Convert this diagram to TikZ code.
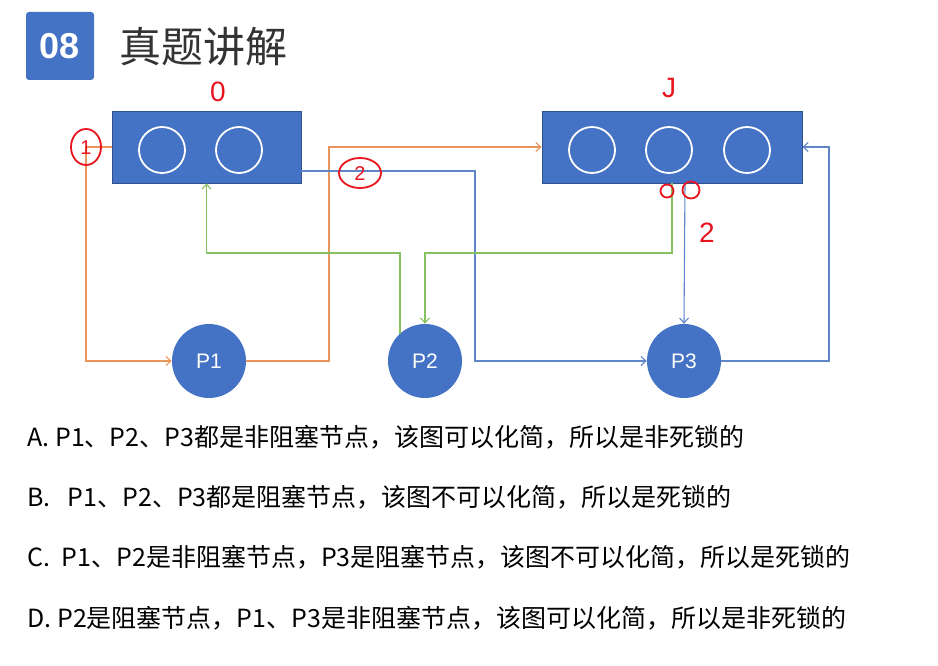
\documentclass[tikz,border=0pt]{standalone}
\usepackage{fontspec}
\setmainfont{Liberation Sans}
\newfontfamily\cjk{Noto Sans CJK SC}
\usetikzlibrary{arrows.meta}
\definecolor{bx}{HTML}{4472C4}
\definecolor{bxd}{HTML}{2F528F}
\definecolor{ol}{HTML}{E9955A}
\definecolor{bl}{HTML}{5F86C8}
\definecolor{gl}{HTML}{86C060}
\definecolor{rd}{HTML}{E8141E}
\begin{document}
\begin{tikzpicture}[x=1pt,y=-1pt,
  res/.style={draw=bxd,fill=bx,minimum height=72,inner sep=0,line width=0.8},
  proc/.style={circle,fill=bx,minimum size=74,inner sep=0,text=white,font=\fontsize{21}{21}\selectfont},
  inst/.style={circle,draw=white,line width=1.8,minimum size=46,inner sep=0},
  con/.style={line width=1.1,-{Straight Barb[length=5pt,width=9pt]}},
  opt/.style={anchor=west,font=\cjk\fontsize{25}{25}\selectfont},
  hand/.style={text=rd,font=\fontsize{28}{28}\selectfont}]
\useasboundingbox (0,0) rectangle (938,666);
\node[fill=bx,rounded corners=3,minimum width=68,minimum height=68,text=white,font=\bfseries\fontsize{36}{36}\selectfont] (num) at (60,46) {08};
\node[anchor=west,font=\cjk\fontsize{42}{42}\selectfont,text=black!80] (title) at (116,47) {真题讲解};
\node[res,minimum width=189] (r0) at (206.5,147) {};
\node[res,minimum width=260] (r1) at (672,147) {};
\node[inst] (a1) at (162,150) {};
\node[inst] (a2) at (239,150) {};
\node[inst] (b1) at (592,150) {};
\node[inst] (b2) at (669,150) {};
\node[inst] (b3) at (747,150) {};
\node[proc] (p1) at (209,361) {P1};
\node[proc] (p2) at (425,361) {P2};
\node[proc] (p3) at (684,361) {P3};
% orange
\draw[con,ol] (r0.west) -- (86,147) |- (p1.west);
\draw[con,ol] (p1.east) -- (329,361) |- (r1.west);
% blue
\draw[con,bl] (r0.east|-0,171) -- (475,171) |- (p3.west);
\draw[con,bl] (p3.east) -- (829,361) |- (r1.east);
\draw[con,bl] (685,183) -- (p3.north);
% green
\draw[con,gl] (400,334) -- (400,253) -| (r0.south);
\draw[con,gl] (672,183) -- (672,253) -| (p2.north);
% handwriting
\node[hand] (h0) at (218,92) {0};
\node[hand] (h1) at (669,88) {J};
\draw[rd,line width=1.8] (86,147) ellipse (15 and 18);
\node[hand,font=\fontsize{20}{20}\selectfont] (h2) at (86,148) {1};
\draw[rd,line width=1.8] (360,173) ellipse (21 and 15);
\node[hand,font=\fontsize{20}{20}\selectfont] (h3) at (360,174) {2};
\draw[rd,line width=1.8] (667,191) circle (6.5);
\draw[rd,line width=1.8] (691,190) circle (8.5);
\node[hand] (h4) at (707,233) {2};
% options
\node[opt] (oa) at (24,437) {A. P1、P2、P3都是非阻塞节点，该图可以化简，所以是非死锁的};
\node[opt] (ob) at (24,497) {B. \ \ P1、P2、P3都是阻塞节点，该图不可以化简，所以是死锁的};
\node[opt] (oc) at (24,557) {C. \ P1、P2是非阻塞节点，P3是阻塞节点，该图不可以化简，所以是死锁的};
\node[opt] (od) at (24,618) {D. P2是阻塞节点，P1、P3是非阻塞节点，该图可以化简，所以是非死锁的};
\end{tikzpicture}
\end{document}
